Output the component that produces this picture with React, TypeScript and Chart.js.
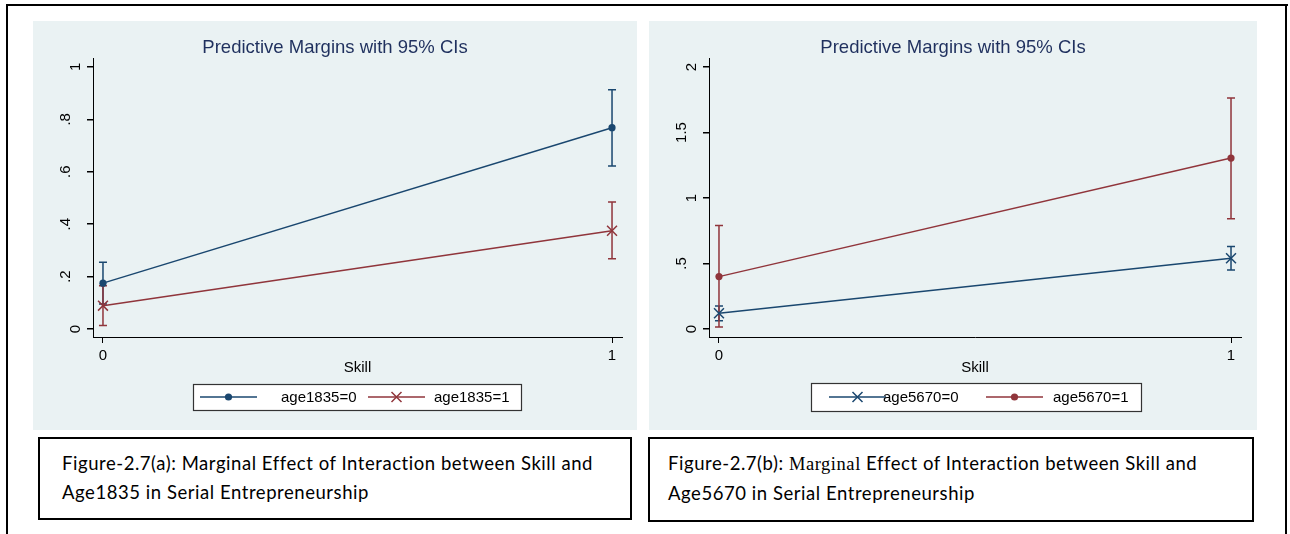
import React, { useEffect, useRef } from 'react';
import { Chart, registerables } from 'chart.js';

Chart.register(...registerables);

// ---------- data ----------
const skillLevels = [0, 1];
const xTickLabels = ['0', '1'];

// Panel (a): age1835
const age1835_0 = [0.175, 0.768];
const age1835_0_lo = [0.095, 0.622];
const age1835_0_hi = [0.255, 0.913];
const age1835_1 = [0.089, 0.375];
const age1835_1_lo = [0.013, 0.268];
const age1835_1_hi = [0.165, 0.485];
const yTicksA = [0, 0.2, 0.4, 0.6, 0.8, 1];
const yTickLabelsA = ['0', '.2', '.4', '.6', '.8', '1'];

// Panel (b): age5670
const age5670_0 = [0.12, 0.54];
const age5670_0_lo = [0.063, 0.45];
const age5670_0_hi = [0.175, 0.63];
const age5670_1 = [0.4, 1.305];
const age5670_1_lo = [0.015, 0.842];
const age5670_1_hi = [0.79, 1.763];
const yTicksB = [0, 0.5, 1, 1.5, 2];
const yTickLabelsB = ['0', '.5', '1', '1.5', '2'];

const chartTitle = 'Predictive Margins with 95% CIs';
const xTitle = 'Skill';

// ---------- styles ----------
const BLUE = '#1a476f';
const RED = '#90353b';
const BG = '#eaf2f3';
const TITLE_COLOR = '#1f305e';
const FONT = '"Liberation Sans", Arial, sans-serif';

type Series = {
  label: string;
  values: number[];
  lo: number[];
  hi: number[];
  color: string;
  marker: 'circle' | 'crossRot';
};

type PanelCfg = {
  width: number;
  height: number;
  padRight: number;
  yMin: number;
  yMax: number;
  xMin: number;
  xMax: number;
  yTicks: number[];
  yLabels: string[];
  series: Series[];
  legendBox: [number, number, number, number]; // x, y, w, h (canvas coords)
  legendItems: { lineX: number; textX: number }[]; // offsets from legend box left
};

const panelA: PanelCfg = {
  width: 604,
  height: 409,
  padRight: 15,
  yMin: -0.0305,
  yMax: 1.034,
  xMin: -0.0196,
  xMax: 1.0196,
  yTicks: yTicksA,
  yLabels: yTickLabelsA,
  series: [
    { label: 'age1835=0', values: age1835_0, lo: age1835_0_lo, hi: age1835_0_hi, color: BLUE, marker: 'circle' },
    { label: 'age1835=1', values: age1835_1, lo: age1835_1_lo, hi: age1835_1_hi, color: RED, marker: 'crossRot' },
  ],
  legendBox: [160, 363, 328, 26],
  legendItems: [
    { lineX: 7, textX: 88 },
    { lineX: 175, textX: 241 },
  ],
};

const panelB: PanelCfg = {
  width: 608,
  height: 409,
  padRight: 16,
  yMin: -0.061,
  yMax: 2.069,
  xMin: -0.0195,
  xMax: 1.0195,
  yTicks: yTicksB,
  yLabels: yTickLabelsB,
  series: [
    { label: 'age5670=0', values: age5670_0, lo: age5670_0_lo, hi: age5670_0_hi, color: BLUE, marker: 'crossRot' },
    { label: 'age5670=1', values: age5670_1, lo: age5670_1_lo, hi: age5670_1_hi, color: RED, marker: 'circle' },
  ],
  legendBox: [162, 362, 330, 28],
  legendItems: [
    { lineX: 18, textX: 72 },
    { lineX: 175, textX: 242 },
  ],
};

function drawMarker(ctx: CanvasRenderingContext2D, kind: string, x: number, y: number, color: string) {
  ctx.save();
  if (kind === 'circle') {
    ctx.fillStyle = color;
    ctx.beginPath();
    ctx.arc(x, y, 3.6, 0, Math.PI * 2);
    ctx.fill();
  } else {
    const d = 5;
    ctx.strokeStyle = color;
    ctx.lineWidth = 1.5;
    ctx.beginPath();
    ctx.moveTo(x - d, y - d);
    ctx.lineTo(x + d, y + d);
    ctx.moveTo(x + d, y - d);
    ctx.lineTo(x - d, y + d);
    ctx.stroke();
  }
  ctx.restore();
}

function makeDecor(cfg: PanelCfg) {
  return {
    id: 'decor',
    beforeDatasetsDraw(chart: any) {
      const { ctx, scales } = chart;
      const xs = scales.x;
      const ys = scales.y;
      ctx.save();
      cfg.series.forEach((s) => {
        ctx.strokeStyle = s.color;
        ctx.lineWidth = 1.5;
        s.lo.forEach((lo, j) => {
          const px = xs.getPixelForValue(skillLevels[j]);
          const p1 = ys.getPixelForValue(lo);
          const p2 = ys.getPixelForValue(s.hi[j]);
          ctx.beginPath();
          ctx.moveTo(px, p1);
          ctx.lineTo(px, p2);
          ctx.moveTo(px - 4, p1);
          ctx.lineTo(px + 4, p1);
          ctx.moveTo(px - 4, p2);
          ctx.lineTo(px + 4, p2);
          ctx.stroke();
        });
      });
      ctx.restore();
    },
    afterDraw(chart: any) {
      const { ctx, scales, chartArea } = chart;
      const ys = scales.y;
      ctx.save();
      // rotated y tick labels
      ctx.fillStyle = '#000';
      ctx.font = `15px ${FONT}`;
      ctx.textAlign = 'center';
      ctx.textBaseline = 'middle';
      cfg.yTicks.forEach((v, i) => {
        const lab = cfg.yLabels[i];
        const py = ys.getPixelForValue(v);
        const px = chartArea.left - (lab.includes('.') ? 27 : 17);
        ctx.save();
        ctx.translate(px, py);
        ctx.rotate(-Math.PI / 2);
        ctx.fillText(lab, 0, 0);
        ctx.restore();
      });
      // title
      ctx.fillStyle = TITLE_COLOR;
      ctx.font = `18.5px ${FONT}`;
      ctx.fillText(chartTitle, chart.width / 2, 26.5);
      // x title
      ctx.fillStyle = '#000';
      ctx.font = `15px ${FONT}`;
      const cx = (chartArea.left + chartArea.right) / 2;
      ctx.fillText(xTitle, cx, 347);
      // legend
      const [bx, by, bw, bh] = cfg.legendBox;
      ctx.fillStyle = '#fff';
      ctx.fillRect(bx, by, bw, bh);
      ctx.strokeStyle = '#333';
      ctx.lineWidth = 1.2;
      ctx.strokeRect(bx + 0.5, by + 0.5, bw, bh);
      const my = by + bh / 2;
      cfg.series.forEach((s, i) => {
        const it = cfg.legendItems[i];
        const lx = bx + it.lineX;
        ctx.strokeStyle = s.color;
        ctx.lineWidth = 1.5;
        ctx.beginPath();
        ctx.moveTo(lx, my);
        ctx.lineTo(lx + 57, my);
        ctx.stroke();
        drawMarker(ctx, s.marker, lx + 28.5, my, s.color);
        ctx.fillStyle = '#000';
        ctx.font = `15px ${FONT}`;
        ctx.textAlign = 'left';
        ctx.fillText(s.label, bx + it.textX, my + 1);
      });
      ctx.restore();
    },
  };
}

function Panel({ cfg, left, top }: { cfg: PanelCfg; left: number; top: number }) {
  const ref = useRef<HTMLCanvasElement>(null);
  useEffect(() => {
    if (!ref.current) return;
    const chart = new Chart(ref.current, {
      type: 'line',
      data: {
        datasets: cfg.series.map((s) => ({
          label: s.label,
          data: skillLevels.map((x, i) => ({ x, y: s.values[i] })),
          borderColor: s.color,
          borderWidth: 1.5,
          backgroundColor: s.color,
          pointStyle: s.marker,
          pointRadius: s.marker === 'circle' ? 3.6 : 7,
          pointBackgroundColor: s.color,
          pointBorderColor: s.color,
          pointBorderWidth: s.marker === 'circle' ? 0 : 1.5,
          fill: false,
          tension: 0,
        })),
      },
      options: {
        responsive: false,
        animation: false,
        devicePixelRatio: 1,
        events: [],
        layout: { padding: { top: 37, right: cfg.padRight, left: 0, bottom: 0 } },
        plugins: {
          legend: { display: false },
          title: { display: false },
          tooltip: { enabled: false },
        },
        scales: {
          x: {
            type: 'linear',
            min: cfg.xMin,
            max: cfg.xMax,
            afterBuildTicks: (s: any) => {
              s.ticks = skillLevels.map((v) => ({ value: v }));
            },
            afterFit: (s: any) => {
              s.height = cfg.height - 316;
            },
            ticks: {
              callback: (v: any) => {
                const k = skillLevels.indexOf(Number(v));
                return k >= 0 ? xTickLabels[k] : '';
              },
              font: { family: FONT, size: 15 },
              color: '#000',
              padding: 4,
              maxRotation: 0,
              autoSkip: false,
            },
            grid: { drawOnChartArea: false, drawTicks: true, tickLength: 6, color: '#000', tickColor: '#000' },
            border: { display: true, color: '#000', width: 1 },
          },
          y: {
            type: 'linear',
            min: cfg.yMin,
            max: cfg.yMax,
            afterBuildTicks: (s: any) => {
              s.ticks = cfg.yTicks.map((v) => ({ value: v }));
            },
            afterFit: (s: any) => {
              s.width = 60;
            },
            ticks: { display: false },
            grid: { color: BG, lineWidth: 1.5, drawTicks: true, tickLength: 6, tickColor: '#000' },
            border: { display: true, color: '#000', width: 1 },
          },
        },
      } as any,
      plugins: [makeDecor(cfg)],
    });
    return () => chart.destroy();
  }, [cfg]);
  return (
    <div style={{ position: 'absolute', left, top, width: cfg.width, height: cfg.height, background: BG }}>
      <canvas ref={ref} width={cfg.width} height={cfg.height} style={{ display: 'block' }} />
    </div>
  );
}

const captionStyle: React.CSSProperties = {
  position: 'absolute',
  boxSizing: 'border-box',
  border: '2px solid #000',
  background: '#fff',
  fontFamily: 'Lato, "Open Sans", sans-serif',
  fontSize: 18.5,
  letterSpacing: '0.55px',
  lineHeight: '29px',
  color: '#000',
  paddingTop: 10,
  whiteSpace: 'nowrap',
};

export default function App() {
  return (
    <div style={{ position: 'absolute', left: 0, top: 0, width: 1290, height: 534, background: '#fff', overflow: 'hidden' }}>
      <div style={{ position: 'absolute', left: 6, top: 4, width: 1282, height: 2, background: '#000' }} />
      <div style={{ position: 'absolute', left: 6, top: 4, width: 2, height: 530, background: '#000' }} />
      <div style={{ position: 'absolute', left: 1285, top: 4, width: 2, height: 530, background: '#000' }} />
      <Panel cfg={panelA} left={33} top={21} />
      <Panel cfg={panelB} left={649} top={21} />
      <div style={{ ...captionStyle, left: 38, top: 437, width: 594, height: 83, paddingLeft: 22 }}>
        Figure-2.7(a): Marginal Effect of Interaction between Skill and
        <br />
        Age1835 in Serial Entrepreneurship
      </div>
      <div style={{ ...captionStyle, left: 648, top: 437, width: 606, height: 85, paddingLeft: 18 }}>
        Figure-2.7(b): <span style={{ fontFamily: '"Liberation Serif", "Times New Roman", serif' }}>Marginal</span> Effect of Interaction between Skill and
        <br />
        Age5670 in Serial Entrepreneurship
      </div>
    </div>
  );
}
